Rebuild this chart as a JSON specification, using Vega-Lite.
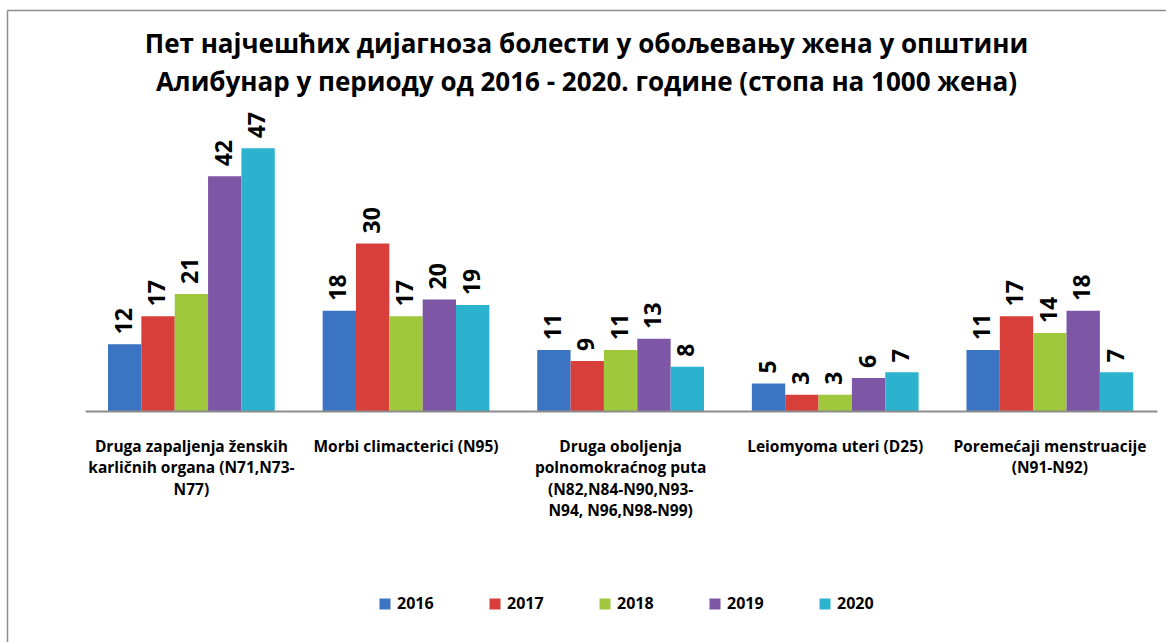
{
  "$schema": "https://vega.github.io/schema/vega-lite/v6.json",
  "autosize": {"type": "none"},
  "width": 1159,
  "height": 632,
  "padding": {"left": 7, "top": 10, "right": 0, "bottom": 0},
  "background": "white",
  "config": {"view": {"stroke": null}},
  "title": {
    "text": ["Пет најчешћих дијагноза болести у обољевању жена у општини", "Алибунар у периоду од 2016 - 2020. године (стопа на 1000 жена)"],
    "font": "Open Sans",
    "fontSize": 26,
    "fontWeight": "bold",
    "color": "#000000",
    "anchor": "middle",
    "frame": "group",
    "lineHeight": 38,
    "baseline": "top",
    "orient": "top",
    "offset": -86
  },
  "datasets": {
    "bars": [
      {"cat": "c1", "year": "2016", "value": 12},
      {"cat": "c1", "year": "2017", "value": 17},
      {"cat": "c1", "year": "2018", "value": 21},
      {"cat": "c1", "year": "2019", "value": 42},
      {"cat": "c1", "year": "2020", "value": 47},
      {"cat": "c2", "year": "2016", "value": 18},
      {"cat": "c2", "year": "2017", "value": 30},
      {"cat": "c2", "year": "2018", "value": 17},
      {"cat": "c2", "year": "2019", "value": 20},
      {"cat": "c2", "year": "2020", "value": 19},
      {"cat": "c3", "year": "2016", "value": 11},
      {"cat": "c3", "year": "2017", "value": 9},
      {"cat": "c3", "year": "2018", "value": 11},
      {"cat": "c3", "year": "2019", "value": 13},
      {"cat": "c3", "year": "2020", "value": 8},
      {"cat": "c4", "year": "2016", "value": 5},
      {"cat": "c4", "year": "2017", "value": 3},
      {"cat": "c4", "year": "2018", "value": 3},
      {"cat": "c4", "year": "2019", "value": 6},
      {"cat": "c4", "year": "2020", "value": 7},
      {"cat": "c5", "year": "2016", "value": 11},
      {"cat": "c5", "year": "2017", "value": 17},
      {"cat": "c5", "year": "2018", "value": 14},
      {"cat": "c5", "year": "2019", "value": 18},
      {"cat": "c5", "year": "2020", "value": 7}
    ],
    "cats": [
      {"cat": "c1", "label": "Druga zapaljenja ženskih|karličnih organa (N71,N73-|N77)"},
      {"cat": "c2", "label": "Morbi climacterici (N95)"},
      {"cat": "c3", "label": "Druga oboljenja|polnomokraćnog puta|(N82,N84-N90,N93-|N94, N96,N98-N99)"},
      {"cat": "c4", "label": "Leiomyoma uteri (D25)"},
      {"cat": "c5", "label": "Poremećaji menstruacije|(N91-N92)"}
    ]
  },
  "layer": [
    {
      "data": {"name": "bars"},
      "mark": {"type": "bar"},
      "encoding": {
        "x": {
          "field": "cat", "type": "nominal", "sort": ["c1", "c2", "c3", "c4", "c5"],
          "scale": {"paddingInner": 0.223, "paddingOuter": 0.3117, "align": 0.755},
          "axis": {"orient": "top", "title": null, "labels": false, "ticks": false, "domain": true, "domainColor": "#8c8c8c", "domainWidth": 1.5, "grid": false}
        },
        "xOffset": {"field": "year", "type": "nominal"},
        "y": {
          "field": "value", "type": "quantitative",
          "scale": {"domain": [-41.16, 71.7], "nice": false, "zero": false},
          "axis": {"title": null, "labels": false, "ticks": false, "grid": false, "domain": true, "domainColor": "#8c8c8c", "domainWidth": 1.5}
        },
        "color": {
          "field": "year", "type": "nominal",
          "scale": {"domain": ["2016", "2017", "2018", "2019", "2020"], "range": ["#3A74C2", "#D93F3A", "#A0C83C", "#7D57A6", "#2BB2CE"]},
          "legend": {
            "orient": "none", "legendX": 370, "legendY": 586, "direction": "horizontal", "columns": 5,
            "title": null, "symbolType": "square", "symbolSize": 121, "symbolStrokeWidth": 0,
            "labelFont": "Open Sans", "labelFontSize": 16, "labelFontWeight": "bold", "labelColor": "#000000",
            "labelOffset": 4, "columnPadding": 53, "padding": 0
          }
        }
      }
    },
    {
      "data": {"name": "bars"},
      "mark": {"type": "text", "angle": 270, "align": "left", "baseline": "middle", "dx": 10, "font": "Open Sans", "fontWeight": "bold", "fontSize": 23, "color": "#000000"},
      "encoding": {
        "x": {"field": "cat", "type": "nominal", "sort": ["c1", "c2", "c3", "c4", "c5"]},
        "xOffset": {"field": "year", "type": "nominal"},
        "y": {"field": "value", "type": "quantitative"},
        "text": {"field": "value", "type": "quantitative"}
      }
    },
    {
      "data": {"name": "cats"},
      "mark": {"type": "text", "align": "center", "baseline": "top", "lineBreak": "|", "lineHeight": 21.5, "font": "Open Sans", "fontWeight": "bold", "fontSize": 15.5, "color": "#000000"},
      "encoding": {
        "x": {"field": "cat", "type": "nominal", "sort": ["c1", "c2", "c3", "c4", "c5"]},
        "y": {"datum": -5.0, "type": "quantitative"},
        "text": {"field": "label", "type": "nominal"}
      }
    },
    {
      "data": {"values": [{"a": "c1", "b": "c5", "v": 0}]},
      "mark": {"type": "rule", "color": "#8c8c8c", "strokeWidth": 2},
      "encoding": {
        "x": {"field": "a", "type": "nominal", "bandPosition": -0.134},
        "x2": {"field": "b", "bandPosition": 1.145},
        "y": {"field": "v", "type": "quantitative"}
      }
    }
  ]
}
